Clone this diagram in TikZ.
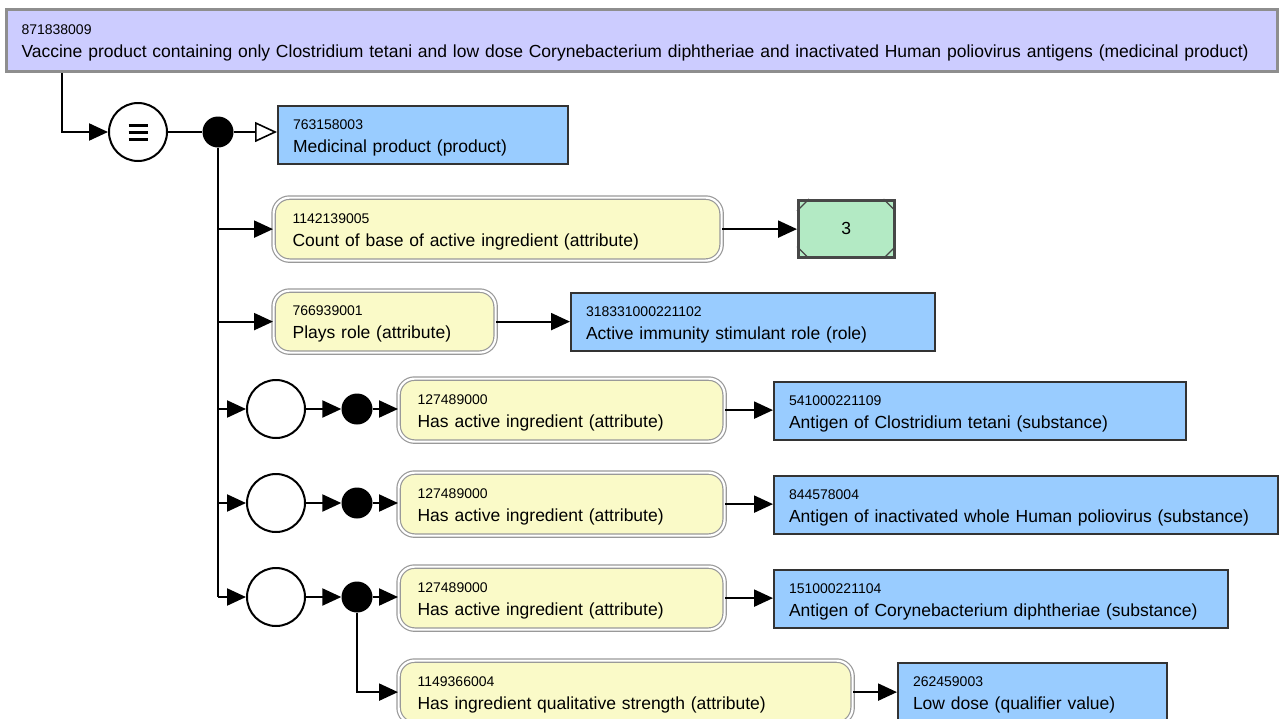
\documentclass[tikz,border=0pt]{standalone}
\usepackage{fontspec}
\setmainfont{Liberation Sans}
\usetikzlibrary{arrows.meta,calc}
\definecolor{clav}{HTML}{CCCCFF}
\definecolor{cblue}{HTML}{99CCFF}
\definecolor{cyel}{HTML}{FAFAC8}
\definecolor{cgreen}{HTML}{B3EAC4}
\definecolor{cdark}{HTML}{333333}
\definecolor{cgrey}{HTML}{8E8E8E}
\newcommand{\myidf}{\fontsize{14}{23}\selectfont\rule{0pt}{15pt}}
\newcommand{\mylbf}{\fontsize{17.5}{23}\selectfont}
\tikzset{
  conn/.style={line width=2.2pt, -{Triangle[length=19pt,width=17pt]}},
  plainline/.style={line width=2.2pt},
  box/.style={anchor=north west, align=left, font=\mylbf, text=black},
  topbox/.style={box, draw=cgrey, line width=3pt, fill=clav, inner xsep=15pt},
  bluebox/.style={box, draw=cdark, line width=2pt, fill=cblue, inner xsep=15pt},
  yelbox/.style={box, draw=gray!80, line width=1.2pt, double=white, double distance=2.2pt, fill=cyel, rounded corners=16pt, inner xsep=19pt},
  greenbox/.style={anchor=north west, draw=cdark!90, line width=2.5pt, fill=cgreen, font=\mylbf},
  opencirc/.style={circle, draw=black, line width=2pt, fill=white, minimum size=58pt, inner sep=0pt},
  dot/.style={circle, fill=black, minimum size=31pt, inner sep=0pt},
}
\begin{document}
\begin{tikzpicture}[x=1pt,y=-1pt]
\useasboundingbox (0,0) rectangle (1279,718);
\clip (0,0) rectangle (1279,718);

% nodes
\node[topbox, minimum width=1271pt, minimum height=62pt, text width=1241pt] (top) at (5,8)
  {{\myidf 871838009}\\Vaccine product containing only Clostridium tetani and low dose Corynebacterium diphtheriae and inactivated Human poliovirus antigens (medicinal product)};

\node[opencirc] (eq) at (138,132) {};
\draw[line width=3pt] ($(eq)+(-9.5,-7)$) -- ($(eq)+(9.5,-7)$);
\draw[line width=3pt] ($(eq)+(-9.5,0)$) -- ($(eq)+(9.5,0)$);
\draw[line width=3pt] ($(eq)+(-9.5,7)$) -- ($(eq)+(9.5,7)$);
\node[dot] (d0) at (218,132) {};

\node[bluebox, minimum width=290pt, minimum height=58pt, text width=260pt] (med) at (277,105)
  {{\myidf 763158003}\\Medicinal product (product)};

\node[yelbox, minimum width=448pt, minimum height=63pt, text width=410pt] (y1) at (273,197)
  {{\myidf 1142139005}\\Count of base of active ingredient (attribute)};
\node[greenbox, minimum width=96pt, minimum height=57pt] (g1) at (797,199) {3};
\draw[cdark!90, line width=1.2pt] ($(g1.north west)+(0,12)$) -- ++(12,-12);
\draw[cdark!90, line width=1.2pt] ($(g1.north east)+(0,12)$) -- ++(-12,-12);
\draw[cdark!90, line width=1.2pt] ($(g1.south west)+(0,-12)$) -- ++(12,12);
\draw[cdark!90, line width=1.2pt] ($(g1.south east)+(0,-12)$) -- ++(-12,12);

\node[yelbox, minimum width=222pt, minimum height=62pt, text width=184pt] (y2) at (273,290)
  {{\myidf 766939001}\\Plays role (attribute)};
\node[bluebox, minimum width=364pt, minimum height=58pt, text width=334pt] (b2) at (570,292)
  {{\myidf 318331000221102}\\Active immunity stimulant role (role)};

\node[opencirc] (c3) at (276,409) {};
\node[dot] (dd3) at (357,409) {};
\node[yelbox, minimum width=326pt, minimum height=63pt, text width=288pt] (y3) at (398,378)
  {{\myidf 127489000}\\Has active ingredient (attribute)};
\node[bluebox, minimum width=412pt, minimum height=58pt, text width=382pt] (b3) at (773,381)
  {{\myidf 541000221109}\\Antigen of Clostridium tetani (substance)};

\node[opencirc] (c4) at (276,503) {};
\node[dot] (dd4) at (357,503) {};
\node[yelbox, minimum width=326pt, minimum height=63pt, text width=288pt] (y4) at (398,472)
  {{\myidf 127489000}\\Has active ingredient (attribute)};
\node[bluebox, minimum width=504pt, minimum height=58pt, text width=474pt] (b4) at (773,475)
  {{\myidf 844578004}\\Antigen of inactivated whole Human poliovirus (substance)};

\node[opencirc] (c5) at (276,597) {};
\node[dot] (dd5) at (357,597) {};
\node[yelbox, minimum width=326pt, minimum height=63pt, text width=288pt] (y5) at (398,566)
  {{\myidf 127489000}\\Has active ingredient (attribute)};
\node[bluebox, minimum width=454pt, minimum height=58pt, text width=424pt] (b5) at (773,569)
  {{\myidf 151000221104}\\Antigen of Corynebacterium diphtheriae (substance)};

\node[yelbox, minimum width=454pt, minimum height=63pt, text width=416pt] (y6) at (398,660)
  {{\myidf 1149366004}\\Has ingredient qualitative strength (attribute)};
\node[bluebox, minimum width=269pt, minimum height=58pt, text width=239pt] (b6) at (897,662)
  {{\myidf 262459003}\\Low dose (qualifier value)};

% connectors
\coordinate (tstart) at ($(top.south west)+(57,0)$);
\draw[conn] (tstart) |- (eq);
\draw[plainline] (eq) -- (d0);
\draw[line width=2.2pt, -{Triangle[open,length=22pt,width=20pt,line width=1.6pt]}] (d0) -- (d0 -| med.west);
\draw[plainline] (d0) -- (d0 |- c5);
\draw[conn] (y1.west -| d0) -- (y1.west);
\draw[conn] (y1.east) -- (y1.east -| g1.west);
\draw[conn] (y2.west -| d0) -- (y2.west);
\draw[conn] (y2.east) -- (y2.east -| b2.west);
\draw[conn] (c3 -| d0) -- (c3);
\draw[conn] (c3) -- (dd3);
\draw[conn] (dd3) -- (dd3 -| y3.west);
\draw[conn] (y3.east) -- (y3.east -| b3.west);
\draw[conn] (c4 -| d0) -- (c4);
\draw[conn] (c4) -- (dd4);
\draw[conn] (dd4) -- (dd4 -| y4.west);
\draw[conn] (y4.east) -- (y4.east -| b4.west);
\draw[conn] (c5 -| d0) -- (c5);
\draw[conn] (c5) -- (dd5);
\draw[conn] (dd5) -- (dd5 -| y5.west);
\draw[conn] (y5.east) -- (y5.east -| b5.west);
\draw[conn] (dd5) |- (y6.west);
\draw[conn] (y6.east) -- (y6.east -| b6.west);
\end{tikzpicture}
\end{document}
